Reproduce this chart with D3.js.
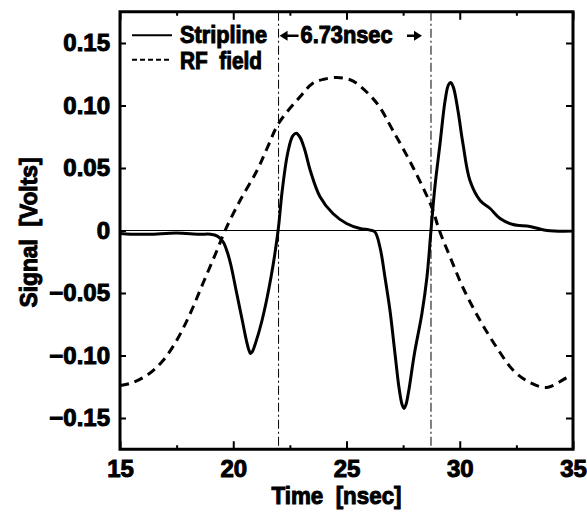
<!DOCTYPE html>
<html>
<head>
<meta charset="utf-8">
<script src="https://cdn.jsdelivr.net/npm/d3@7"></script>
<style>
  body { margin: 0; background: #fff; }
  text { font-family: "Liberation Sans", Arial, sans-serif; font-weight: bold; fill: #000; stroke: #000; stroke-width: 1px; }
</style>
</head>
<body>
<div id="chart"></div>
<script>
// stripline pickup signal
const stripT = [15, 15.5, 16.3, 17.5, 18.5, 19.0, 19.3, 19.55, 19.75, 19.9, 20.15, 20.4, 20.58, 20.68, 20.76, 20.84, 20.95, 21.27, 21.67, 21.98, 22.15, 22.4, 22.62, 22.78, 22.95, 23.15, 23.4, 23.83, 24.4, 25.0, 25.6, 26.0, 26.25, 26.48, 26.7, 26.92, 27.14, 27.32, 27.45, 27.54, 27.63, 27.75, 28.0, 28.33, 28.55, 28.73, 28.9, 29.13, 29.35, 29.5, 29.6, 29.72, 29.92, 30.14, 30.45, 30.9, 31.34, 31.78, 32.35, 33.1, 33.85, 35]
const stripV = [-0.0024, -0.003, -0.003, -0.002, -0.003, -0.003, -0.0045, -0.009, -0.018, -0.028, -0.05, -0.072, -0.088, -0.095, -0.0984, -0.097, -0.092, -0.072, -0.037, 0, 0.03, 0.0616, 0.0755, 0.0778, 0.0745, 0.065, 0.048, 0.027, 0.0136, 0.0056, 0.0016, 0.0005, -0.001, -0.0136, -0.0376, -0.064, -0.0984, -0.126, -0.139, -0.1424, -0.139, -0.128, -0.0984, -0.0664, -0.0376, 0, 0.0344, 0.0696, 0.1036, 0.1165, 0.1184, 0.1145, 0.096, 0.0696, 0.04, 0.024, 0.0176, 0.0096, 0.0048, 0.0032, 0, -0.0005]

// RF field
const rfT = [15, 15.57, 16.3, 16.9, 17.5, 18.1, 18.66, 19.28, 19.64, 20.3, 21.05, 21.5, 22.0, 22.95, 23.5, 24.0, 24.58, 25.1, 25.46, 26.35, 27.05, 27.94, 28.77, 29.1, 29.57, 30.15, 30.9, 31.63, 32.37, 33.1, 33.85, 34.7, 35]
const rfV = [-0.124, -0.1216, -0.1144, -0.104, -0.088, -0.0664, -0.0424, -0.016, 0, 0.024, 0.048, 0.066, 0.0856, 0.107, 0.1176, 0.121, 0.1224, 0.121, 0.1176, 0.1016, 0.08, 0.0504, 0.0184, 0, -0.021, -0.046, -0.072, -0.0935, -0.112, -0.1216, -0.1256, -0.118, -0.116]

const markers = [22.0, 28.73]
const xMajor = [15, 20, 25, 30, 35]
const xMinor = [17.5, 22.5, 27.5, 32.5]
const yTicks = [-0.15, -0.10, -0.05, 0, 0.05, 0.10, 0.15]
const yTickLabels = ["\u22120.15", "\u22120.10", "\u22120.05", "0", "0.05", "0.10", "0.15"]

const svgWidth = 587
const svgHeight = 518
var margin = { left:120, right:14, top:11.75, bottom:68.75 }
var width = svgWidth - margin.left - margin.right,
    height = svgHeight - margin.top - margin.bottom

let svg = d3.select("#chart")
  .append("svg")
  .attr("width", svgWidth)
  .attr("height", svgHeight)

let g = svg.append("g")
  .attr("transform", "translate(" + margin.left + ", " + margin.top + ")")

var x = d3.scaleLinear().domain([15, 35]).range([0, width])
var y = d3.scaleLinear().domain([-0.175, 0.175]).range([height, 0])

// zero line
g.append("line")
  .attr("x1", 0).attr("x2", width)
  .attr("y1", y(0)).attr("y2", y(0))
  .attr("stroke", "#000").attr("stroke-width", 1.2)

// dash-dot markers
g.selectAll(".marker")
  .data(markers)
  .enter().append("line")
  .attr("class", "marker")
  .attr("x1", d => x(d)).attr("x2", d => x(d))
  .attr("y1", 0).attr("y2", height)
  .attr("stroke", "#000").attr("stroke-width", 1)
  .attr("stroke-dasharray", "9,3,2,3")

var line = d3.line()
  .x(d => x(d[0]))
  .y(d => y(d[1]))
  .curve(d3.curveCatmullRom.alpha(0.5))

g.append("path")
  .datum(rfT.map((t, i) => [t, rfV[i]]))
  .attr("d", line)
  .attr("fill", "none")
  .attr("stroke", "#000")
  .attr("stroke-width", 3)
  .attr("stroke-dasharray", "9,6")

g.append("path")
  .datum(stripT.map((t, i) => [t, stripV[i]]))
  .attr("d", line)
  .attr("fill", "none")
  .attr("stroke", "#000")
  .attr("stroke-width", 3)
  .attr("stroke-linejoin", "round")

//axes
function styleAxis(sel) {
  sel.select(".domain").remove()
  sel.selectAll("line").attr("stroke", "#000").attr("stroke-width", 2)
  sel.selectAll("text").attr("font-size", "24px")
    .attr("font-family", "Liberation Sans, Arial, sans-serif").attr("font-weight", "bold")
}

g.append("g")
  .attr("transform", "translate(0, " + height + ")")
  .call(d3.axisBottom(x).tickValues(xMajor).tickSize(-8).tickPadding(11).tickFormat(d3.format("d")))
  .call(styleAxis)
g.append("g")
  .attr("transform", "translate(0, " + height + ")")
  .call(d3.axisBottom(x).tickValues(xMinor).tickSize(-4).tickFormat(""))
  .call(styleAxis)
g.append("g")
  .call(d3.axisTop(x).tickValues(xMajor).tickSize(-8).tickFormat(""))
  .call(styleAxis)
g.append("g")
  .call(d3.axisTop(x).tickValues(xMinor).tickSize(-4).tickFormat(""))
  .call(styleAxis)
g.append("g")
  .call(d3.axisLeft(y).tickValues(yTicks).tickSize(-6).tickPadding(10)
    .tickFormat((d, i) => yTickLabels[i]))
  .call(styleAxis)
g.append("g")
  .attr("transform", "translate(" + width + ", 0)")
  .call(d3.axisRight(y).tickValues(yTicks).tickSize(-7).tickFormat(""))
  .call(styleAxis)

// frame
g.append("rect")
  .attr("width", width).attr("height", height)
  .attr("fill", "none").attr("stroke", "#000").attr("stroke-width", 3)

// legend
g.append("line")
  .attr("x1", 12).attr("x2", 52).attr("y1", 23.5).attr("y2", 23.5)
  .attr("stroke", "#000").attr("stroke-width", 2)
g.append("line")
  .attr("x1", 12).attr("x2", 52).attr("y1", 48).attr("y2", 48)
  .attr("stroke", "#000").attr("stroke-width", 2)
  .attr("stroke-dasharray", "5,3")
g.append("text")
  .attr("x", 60).attr("y", 31.5)
  .attr("font-size", "23px")
  .attr("textLength", 87).attr("lengthAdjust", "spacingAndGlyphs")
  .text("Stripline")
g.append("text")
  .attr("x", 60).attr("y", 57.5)
  .attr("font-size", "23px")
  .attr("textLength", 82).attr("lengthAdjust", "spacingAndGlyphs")
  .style("white-space", "pre")
  .text("RF  field")

// interval annotation between the markers
const xa = x(markers[0]), xb = x(markers[1]), ya = 24
g.append("line")
  .attr("x1", xa + 6).attr("x2", xa + 20).attr("y1", ya).attr("y2", ya)
  .attr("stroke", "#000").attr("stroke-width", 2.5)
g.append("path")
  .attr("d", `M${xa + 1},${ya} L${xa + 9},${ya - 5} L${xa + 9},${ya + 5} Z`)
  .attr("fill", "#000")
g.append("line")
  .attr("x1", xb - 24).attr("x2", xb - 14).attr("y1", ya).attr("y2", ya)
  .attr("stroke", "#000").attr("stroke-width", 2.5)
g.append("path")
  .attr("d", `M${xb - 9},${ya} L${xb - 17},${ya - 5} L${xb - 17},${ya + 5} Z`)
  .attr("fill", "#000")
g.append("text")
  .attr("x", xa + 22).attr("y", 31.5)
  .attr("font-size", "23px")
  .attr("textLength", 92).attr("lengthAdjust", "spacingAndGlyphs")
  .text("6.73nsec")

//Labels
g.append("text")
  .attr("x", width / 2 - 10)
  .attr("y", height + 55)
  .attr("font-size", "24px")
  .attr("text-anchor", "middle")
  .attr("textLength", 130).attr("lengthAdjust", "spacingAndGlyphs")
  .style("white-space", "pre")
  .text("Time  [nsec]")
g.append("text")
  .attr("transform", "translate(-83, " + (y(0) + 2) + ") rotate(-90)")
  .attr("font-size", "24px")
  .attr("text-anchor", "middle")
  .attr("textLength", 150).attr("lengthAdjust", "spacingAndGlyphs")
  .style("white-space", "pre")
  .text("Signal  [Volts]")
</script>
</body>
</html>
